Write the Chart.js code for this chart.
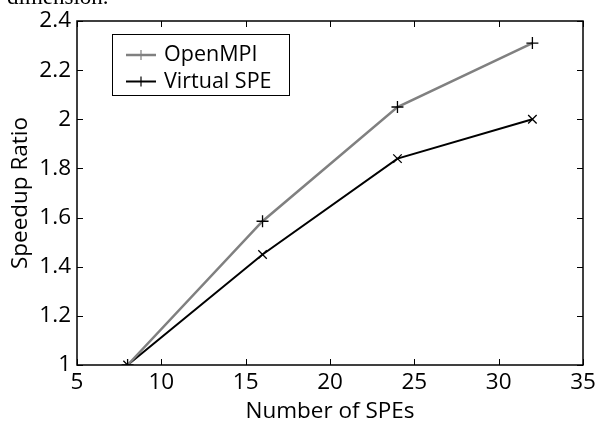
<!DOCTYPE html>
<html>
<head>
<meta charset="utf-8">
<script src="https://cdn.jsdelivr.net/npm/chart.js@4/dist/chart.umd.min.js"></script>
<style>
  html, body { margin: 0; padding: 0; background: #fff; }
  #wrap { position: relative; width: 611px; height: 424px; overflow: hidden; }
  #wrap canvas { position: absolute; left: 0; top: 0; }
  #cut { position: absolute; left: 7px; top: -16px; font: 23px "Liberation Serif", serif; color: #000; }
</style>
</head>
<body>
<div id="wrap">
  <canvas id="speedup" width="611" height="424"></canvas>
  <div id="cut">dimension.</div>
</div>
<script>
// data
const spes = [8, 16, 24, 32];
const openMpi = [1.0, 1.585, 2.05, 2.31];
const virtualSpe = [1.0, 1.45, 1.84, 2.0];
const xTicks = [5, 10, 15, 20, 25, 30, 35];
const yTicks = [1, 1.2, 1.4, 1.6, 1.8, 2, 2.2, 2.4];
const yTickLabels = ["1", "1.2", "1.4", "1.6", "1.8", "2", "2.2", "2.4"];

const font = "'Open Sans', sans-serif";

// matplotlib style frame with inward ticks on every side
const frame = {
    id: "frame",
    afterDraw(chart) {
        const { ctx, chartArea: a, scales } = chart;
        ctx.save();
        ctx.strokeStyle = "#000";
        ctx.lineWidth = 1.5;
        ctx.strokeRect(a.left, a.top, a.right - a.left, a.bottom - a.top);
        ctx.lineWidth = 1;
        ctx.beginPath();
        xTicks.forEach(v => {
            const px = Math.round(scales.x.getPixelForValue(v)) + 0.5;
            ctx.moveTo(px, a.bottom); ctx.lineTo(px, a.bottom - 6);
            ctx.moveTo(px, a.top); ctx.lineTo(px, a.top + 6);
        });
        yTicks.forEach(v => {
            const py = Math.round(scales.y.getPixelForValue(v)) + 0.5;
            ctx.moveTo(a.left, py); ctx.lineTo(a.left + 6, py);
            ctx.moveTo(a.right, py); ctx.lineTo(a.right - 6, py);
        });
        ctx.stroke();
        ctx.restore();
    }
};

// boxed legend with line + marker samples
const lineLegend = {
    id: "lineLegend",
    afterDraw(chart) {
        const { ctx } = chart;
        const box = { x: 112.5, y: 34.5, w: 177, h: 61 };
        ctx.save();
        ctx.fillStyle = "#fff";
        ctx.fillRect(box.x, box.y, box.w, box.h);
        ctx.strokeStyle = "#000";
        ctx.lineWidth = 1;
        ctx.strokeRect(box.x, box.y, box.w, box.h);
        chart.data.datasets.forEach((ds, i) => {
            const y = 55 + i * 26.5;
            ctx.strokeStyle = ds.borderColor;
            ctx.lineWidth = ds.borderWidth;
            ctx.beginPath();
            ctx.moveTo(126, y); ctx.lineTo(156, y);
            ctx.stroke();
            ctx.lineWidth = 1.2;
            ctx.beginPath();
            ctx.moveTo(141, y - 5); ctx.lineTo(141, y + 5);
            ctx.stroke();
            ctx.fillStyle = "#000";
            ctx.font = "21.5px " + font;
            ctx.textBaseline = "middle";
            ctx.fillText(ds.label, 164, y);
        });
        ctx.restore();
    }
};

new Chart(document.getElementById("speedup"), {
    type: "scatter",
    data: {
        datasets: [{
            label: "OpenMPI",
            data: spes.map((x, i) => ({ x, y: openMpi[i] })),
            showLine: true,
            borderColor: "#808080",
            borderWidth: 2.5,
            pointStyle: "cross",
            pointRadius: 6,
            pointBorderColor: "#000",
            pointBorderWidth: 1.3
        }, {
            label: "Virtual SPE",
            data: spes.map((x, i) => ({ x, y: virtualSpe[i] })),
            showLine: true,
            borderColor: "#000",
            borderWidth: 2,
            pointStyle: "crossRot",
            pointRadius: 6,
            pointBorderColor: "#000",
            pointBorderWidth: 1.3
        }]
    },
    options: {
        responsive: false,
        animation: false,
        layout: { padding: { top: 21, right: 28, left: 0, bottom: 0 } },
        plugins: { legend: { display: false }, tooltip: { enabled: false } },
        scales: {
            x: {
                type: "linear",
                min: 5, max: 35,
                afterBuildTicks: s => { s.ticks = xTicks.map(v => ({ value: v })); },
                afterFit: s => { s.height = 59; },
                grid: { drawOnChartArea: false, drawTicks: false },
                border: { display: false },
                ticks: { color: "#000", padding: 5, font: { family: font, size: 22.5, lineHeight: 1.1 } },
                title: { display: true, text: "Number of SPEs", color: "#000", padding: { top: 1, bottom: 0 }, font: { family: font, size: 22.5, lineHeight: 1.1 } }
            },
            y: {
                min: 1, max: 2.4,
                afterBuildTicks: s => { s.ticks = yTicks.map(v => ({ value: v })); },
                afterFit: s => { s.width = 77; },
                grid: { drawOnChartArea: false, drawTicks: false },
                border: { display: false },
                ticks: {
                    color: "#000", padding: 6, font: { family: font, size: 22.5 },
                    callback: (v) => yTickLabels[yTicks.indexOf(v)] ?? ""
                },
                title: { display: true, text: "Speedup Ratio", color: "#000", padding: { top: 8, bottom: 0 }, font: { family: font, size: 22.5, lineHeight: 1.1 } }
            }
        }
    },
    plugins: [frame, lineLegend]
});
</script>
</body>
</html>
